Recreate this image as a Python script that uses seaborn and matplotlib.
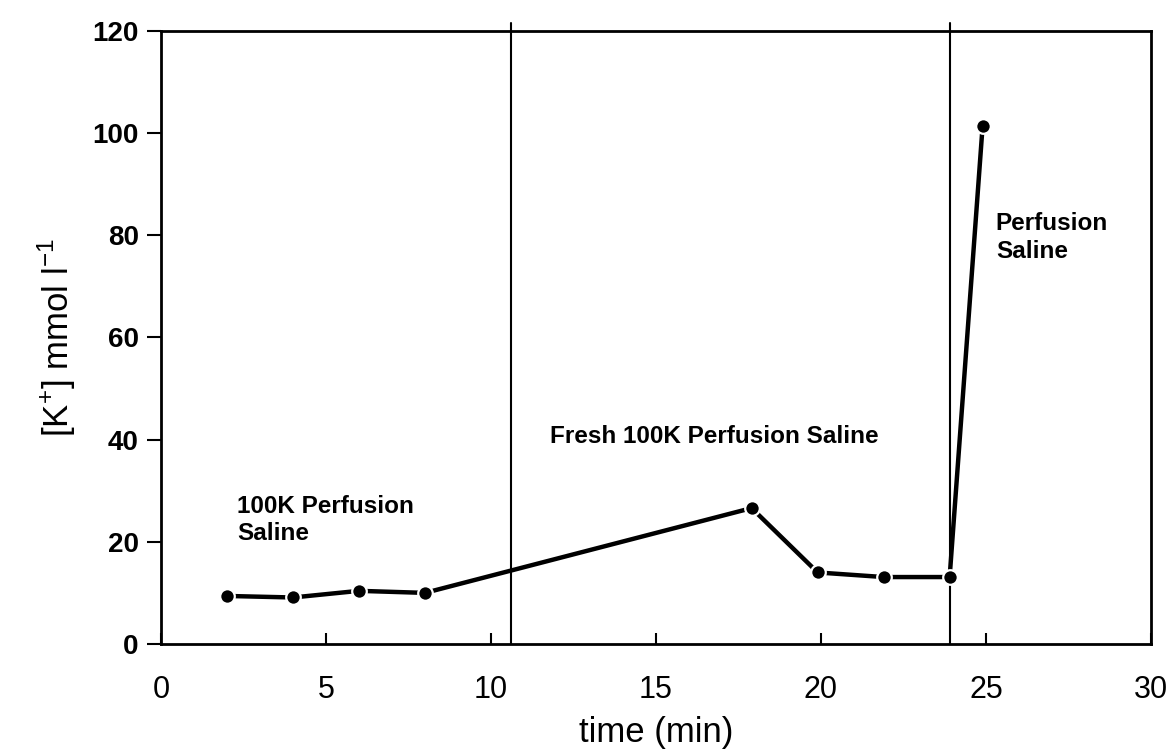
import matplotlib
matplotlib.use("Agg")
import matplotlib.pyplot as plt
import seaborn as sns
import pandas as pd

# data
time_min = [2.0, 4.0, 6.0, 8.0, 17.9, 19.9, 21.9, 23.9, 24.9]
k_conc = [9.4, 9.1, 10.4, 10.0, 26.6, 14.0, 13.1, 13.1, 101.5]
change_times = [10.6, 23.9]
x_ticks = [0, 5, 10, 15, 20, 25, 30]
y_ticks = [0, 20, 40, 60, 80, 100, 120]

df = pd.DataFrame({"time": time_min, "k": k_conc})

sns.set_style("ticks")
plt.rcParams["font.family"] = ["Liberation Sans", "DejaVu Sans"]
plt.rcParams["mathtext.fontset"] = "custom"
plt.rcParams["mathtext.rm"] = "Liberation Sans"
for key in ["text.color", "axes.labelcolor", "xtick.color", "ytick.color"]:
    plt.rcParams[key] = "black"

fig, ax = plt.subplots(figsize=(11.68, 7.53), dpi=100)
fig.subplots_adjust(left=0.1378, right=0.9854, top=0.9588, bottom=0.1448)

sns.lineplot(data=df, x="time", y="k", ax=ax, color="black", linewidth=3.2,
             marker="o", markersize=10.5, markeredgecolor="white", markeredgewidth=1.6)

for t in change_times:
    ax.axvline(t, ymin=0, ymax=1.013, color="black", linewidth=1.5, clip_on=False, zorder=1)

ax.set_xlim(0, 30)
ax.set_ylim(0, 120)
ax.set_xticks(x_ticks)
ax.set_yticks(y_ticks)

ax.set_xticklabels([str(v) for v in x_ticks], fontsize=22)
ax.set_yticklabels([str(v) for v in y_ticks], fontsize=20, fontweight="bold")
ax.tick_params(axis="x", direction="in", length=8, width=1.5, pad=22)
ax.tick_params(axis="y", direction="out", length=10, width=1.5, pad=6)

for side in ["left", "right", "top", "bottom"]:
    ax.spines[side].set_visible(True)
    ax.spines[side].set_linewidth(2)
    ax.spines[side].set_color("black")

ax.set_xlabel("time (min)", fontsize=25, labelpad=8)
ax.set_ylabel(r"[K$^{+}$] mmol l$^{-1}$", fontsize=25, labelpad=10)

ax.text(2.3, 24.3, "100K Perfusion\nSaline", fontsize=17.5, fontweight="bold",
        va="center", ha="left", linespacing=1.25)
ax.text(11.8, 40.7, "Fresh 100K Perfusion Saline", fontsize=17.5, fontweight="bold",
        va="center", ha="left")
ax.text(25.3, 79.6, "Perfusion\nSaline", fontsize=17.5, fontweight="bold",
        va="center", ha="left", linespacing=1.25)

fig.savefig("out.png", dpi=100, facecolor="white")
